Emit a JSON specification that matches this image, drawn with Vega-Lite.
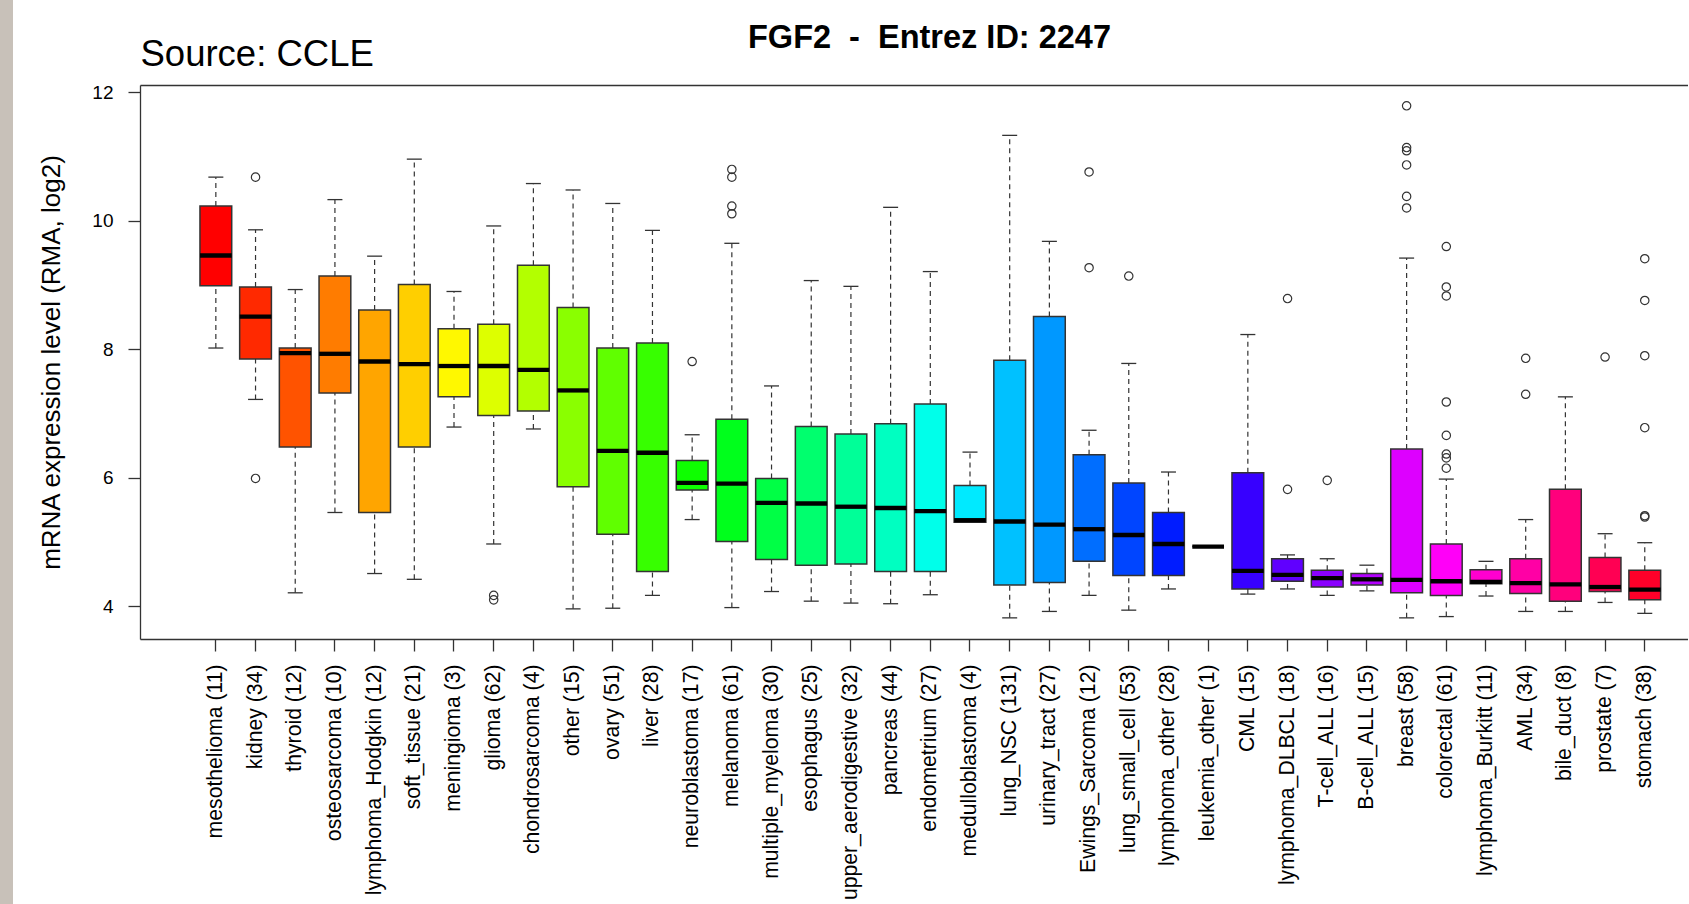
{
  "$schema": "https://vega.github.io/schema/vega-lite/v6.json",
  "padding": 0,
  "autosize": {"type": "pad"},
  "background": "#ffffff",
  "spacing": 25,
  "config": {
    "font": "Liberation Sans",
    "view": {"stroke": null},
    "axis": {"grid": false, "labelFont": "Liberation Sans", "titleFont": "Liberation Sans"},
    "title": {"font": "Liberation Sans"}
  },
  "datasets": {
    "stats": [
      {"site": "mesothelioma (11)", "lo": 8.02, "q1": 8.99, "med": 9.46, "q3": 10.23, "hi": 10.68},
      {"site": "kidney (34)", "lo": 7.22, "q1": 7.85, "med": 8.51, "q3": 8.97, "hi": 9.86},
      {"site": "thyroid (12)", "lo": 4.21, "q1": 6.48, "med": 7.94, "q3": 8.02, "hi": 8.93},
      {"site": "osteosarcoma (10)", "lo": 5.46, "q1": 7.32, "med": 7.93, "q3": 9.14, "hi": 10.33},
      {"site": "lymphoma_Hodgkin (12)", "lo": 4.51, "q1": 5.46, "med": 7.81, "q3": 8.61, "hi": 9.45},
      {"site": "soft_tissue (21)", "lo": 4.42, "q1": 6.48, "med": 7.77, "q3": 9.01, "hi": 10.96},
      {"site": "meningioma (3)", "lo": 6.79, "q1": 7.26, "med": 7.74, "q3": 8.32, "hi": 8.9},
      {"site": "glioma (62)", "lo": 4.97, "q1": 6.97, "med": 7.74, "q3": 8.39, "hi": 9.92},
      {"site": "chondrosarcoma (4)", "lo": 6.76, "q1": 7.04, "med": 7.68, "q3": 9.31, "hi": 10.58},
      {"site": "other (15)", "lo": 3.96, "q1": 5.86, "med": 7.36, "q3": 8.65, "hi": 10.48},
      {"site": "ovary (51)", "lo": 3.97, "q1": 5.12, "med": 6.42, "q3": 8.02, "hi": 10.27},
      {"site": "liver (28)", "lo": 4.17, "q1": 4.54, "med": 6.39, "q3": 8.1, "hi": 9.85},
      {"site": "neuroblastoma (17)", "lo": 5.35, "q1": 5.81, "med": 5.92, "q3": 6.27, "hi": 6.67},
      {"site": "melanoma (61)", "lo": 3.98, "q1": 5.01, "med": 5.91, "q3": 6.91, "hi": 9.65},
      {"site": "multiple_myeloma (30)", "lo": 4.23, "q1": 4.73, "med": 5.61, "q3": 5.99, "hi": 7.43},
      {"site": "esophagus (25)", "lo": 4.08, "q1": 4.64, "med": 5.6, "q3": 6.8, "hi": 9.07},
      {"site": "upper_aerodigestive (32)", "lo": 4.05, "q1": 4.66, "med": 5.55, "q3": 6.68, "hi": 8.98},
      {"site": "pancreas (44)", "lo": 4.04, "q1": 4.54, "med": 5.53, "q3": 6.84, "hi": 10.21},
      {"site": "endometrium (27)", "lo": 4.18, "q1": 4.54, "med": 5.48, "q3": 7.15, "hi": 9.21},
      {"site": "medulloblastoma (4)", "lo": 5.31, "q1": 5.31, "med": 5.34, "q3": 5.88, "hi": 6.4},
      {"site": "lung_NSC (131)", "lo": 3.82, "q1": 4.33, "med": 5.32, "q3": 7.83, "hi": 11.33},
      {"site": "urinary_tract (27)", "lo": 3.92, "q1": 4.37, "med": 5.27, "q3": 8.51, "hi": 9.68},
      {"site": "Ewings_Sarcoma (12)", "lo": 4.17, "q1": 4.7, "med": 5.2, "q3": 6.36, "hi": 6.74},
      {"site": "lung_small_cell (53)", "lo": 3.94, "q1": 4.48, "med": 5.11, "q3": 5.92, "hi": 7.78},
      {"site": "lymphoma_other (28)", "lo": 4.27, "q1": 4.48, "med": 4.97, "q3": 5.46, "hi": 6.09},
      {"site": "leukemia_other (1)", "lo": 4.93, "q1": 4.93, "med": 4.93, "q3": 4.93, "hi": 4.93},
      {"site": "CML (15)", "lo": 4.19, "q1": 4.27, "med": 4.55, "q3": 6.08, "hi": 8.23},
      {"site": "lymphoma_DLBCL (18)", "lo": 4.27, "q1": 4.39, "med": 4.49, "q3": 4.74, "hi": 4.8},
      {"site": "T-cell_ALL (16)", "lo": 4.17, "q1": 4.3, "med": 4.44, "q3": 4.56, "hi": 4.74},
      {"site": "B-cell_ALL (15)", "lo": 4.24, "q1": 4.33, "med": 4.42, "q3": 4.51, "hi": 4.64},
      {"site": "breast (58)", "lo": 3.82, "q1": 4.21, "med": 4.41, "q3": 6.45, "hi": 9.42},
      {"site": "colorectal (61)", "lo": 3.84, "q1": 4.17, "med": 4.39, "q3": 4.97, "hi": 5.98},
      {"site": "lymphoma_Burkitt (11)", "lo": 4.16, "q1": 4.35, "med": 4.38, "q3": 4.57, "hi": 4.7},
      {"site": "AML (34)", "lo": 3.92, "q1": 4.2, "med": 4.36, "q3": 4.74, "hi": 5.35},
      {"site": "bile_duct (8)", "lo": 3.92, "q1": 4.08, "med": 4.34, "q3": 5.82, "hi": 7.26},
      {"site": "prostate (7)", "lo": 4.06, "q1": 4.23, "med": 4.3, "q3": 4.76, "hi": 5.13},
      {"site": "stomach (38)", "lo": 3.89, "q1": 4.1, "med": 4.26, "q3": 4.56, "hi": 4.99}
    ],
    "outliers": [
      {"site": "kidney (34)", "value": 10.68},
      {"site": "kidney (34)", "value": 5.99},
      {"site": "glioma (62)", "value": 4.17},
      {"site": "glioma (62)", "value": 4.1},
      {"site": "neuroblastoma (17)", "value": 7.81},
      {"site": "melanoma (61)", "value": 10.8},
      {"site": "melanoma (61)", "value": 10.68},
      {"site": "melanoma (61)", "value": 10.23},
      {"site": "melanoma (61)", "value": 10.11},
      {"site": "Ewings_Sarcoma (12)", "value": 10.76},
      {"site": "Ewings_Sarcoma (12)", "value": 9.27},
      {"site": "lung_small_cell (53)", "value": 9.14},
      {"site": "lymphoma_DLBCL (18)", "value": 8.79},
      {"site": "lymphoma_DLBCL (18)", "value": 5.82},
      {"site": "T-cell_ALL (16)", "value": 5.96},
      {"site": "breast (58)", "value": 11.79},
      {"site": "breast (58)", "value": 11.14},
      {"site": "breast (58)", "value": 11.09},
      {"site": "breast (58)", "value": 10.87},
      {"site": "breast (58)", "value": 10.38},
      {"site": "breast (58)", "value": 10.2},
      {"site": "colorectal (61)", "value": 9.6},
      {"site": "colorectal (61)", "value": 8.97},
      {"site": "colorectal (61)", "value": 8.83},
      {"site": "colorectal (61)", "value": 7.18},
      {"site": "colorectal (61)", "value": 6.66},
      {"site": "colorectal (61)", "value": 6.37},
      {"site": "colorectal (61)", "value": 6.31},
      {"site": "colorectal (61)", "value": 6.15},
      {"site": "AML (34)", "value": 7.86},
      {"site": "AML (34)", "value": 7.3},
      {"site": "prostate (7)", "value": 7.88},
      {"site": "stomach (38)", "value": 9.41},
      {"site": "stomach (38)", "value": 8.76},
      {"site": "stomach (38)", "value": 7.9},
      {"site": "stomach (38)", "value": 6.78},
      {"site": "stomach (38)", "value": 5.41},
      {"site": "stomach (38)", "value": 5.39}
    ]
  },
  "hconcat": [
    {
      "width": 13,
      "height": 904,
      "view": {"fill": "#c8c1b9", "stroke": null},
      "data": {"values": []},
      "mark": "point"
    },
    {
      "spacing": 0,
      "vconcat": [
        {
          "width": 1548,
          "height": 21,
          "view": {"stroke": null},
          "data": {"values": []},
          "mark": "point"
        },
        {
          "width": 1548,
          "height": 554,
          "view": {"stroke": null},
          "title": {
            "text": "FGF2\u00a0\u00a0-\u00a0\u00a0Entrez ID: 2247",
            "fontSize": 32.5,
            "fontWeight": "bold",
            "color": "#000000",
            "anchor": "middle",
            "frame": "group",
            "offset": -18,
            "dx": 15.5
          },
          "data": {"name": "stats"},
          "resolve": {"axis": {"x": "independent"}},
          "layer": [
            {
              "mark": {"type": "rule", "strokeDash": [5, 4], "color": "#333333", "strokeWidth": 1.2},
              "encoding": {
                "x": {
                  "field": "site", "type": "nominal",
                  "scale": {"type": "band", "domain": ["mesothelioma (11)", "kidney (34)", "thyroid (12)", "osteosarcoma (10)", "lymphoma_Hodgkin (12)", "soft_tissue (21)", "meningioma (3)", "glioma (62)", "chondrosarcoma (4)", "other (15)", "ovary (51)", "liver (28)", "neuroblastoma (17)", "melanoma (61)", "multiple_myeloma (30)", "esophagus (25)", "upper_aerodigestive (32)", "pancreas (44)", "endometrium (27)", "medulloblastoma (4)", "lung_NSC (131)", "urinary_tract (27)", "Ewings_Sarcoma (12)", "lung_small_cell (53)", "lymphoma_other (28)", "leukemia_other (1)", "CML (15)", "lymphoma_DLBCL (18)", "T-cell_ALL (16)", "B-cell_ALL (15)", "breast (58)", "colorectal (61)", "lymphoma_Burkitt (11)", "AML (34)", "bile_duct (8)", "prostate (7)", "stomach (38)"], "paddingInner": 0, "paddingOuter": 1, "align": 0.7054, "round": false},
                  "axis": {
                    "orient": "top", "title": "Source: CCLE", "domain": true, "domainColor": "#333333", "domainWidth": 1.3,
                    "ticks": false, "labels": false, "grid": false,
                    "titleFontSize": 36.5, "titleFontWeight": "normal", "titleColor": "#000000",
                    "titleAnchor": "start", "titleAlign": "left", "titleBaseline": "alphabetic", "titleX": 0, "titleY": -20
                  }
                },
                "y": {
                  "field": "lo", "type": "quantitative",
                  "scale": {"domain": [3.491, 12.114], "nice": false, "zero": false},
                  "axis": {
                    "title": "mRNA expression level (RMA, log2)", "values": [4, 6, 8, 10, 12], "format": "d",
                    "domain": true, "domainColor": "#333333", "domainWidth": 1.3,
                    "tickSize": 12, "tickColor": "#333333", "tickWidth": 1.3,
                    "labelFontSize": 19, "labelPadding": 15, "labelColor": "#000000",
                    "titleFontSize": 26, "titleFontWeight": "normal", "titleColor": "#000000", "titlePadding": 27.5,
                    "grid": false
                  }
                },
                "y2": {"field": "q1"}
              }
            },
            {
              "mark": {"type": "rule", "strokeDash": [5, 4], "color": "#333333", "strokeWidth": 1.2},
              "encoding": {
                "x": {
                  "field": "site", "type": "nominal",
                  "scale": {"type": "band", "domain": ["mesothelioma (11)", "kidney (34)", "thyroid (12)", "osteosarcoma (10)", "lymphoma_Hodgkin (12)", "soft_tissue (21)", "meningioma (3)", "glioma (62)", "chondrosarcoma (4)", "other (15)", "ovary (51)", "liver (28)", "neuroblastoma (17)", "melanoma (61)", "multiple_myeloma (30)", "esophagus (25)", "upper_aerodigestive (32)", "pancreas (44)", "endometrium (27)", "medulloblastoma (4)", "lung_NSC (131)", "urinary_tract (27)", "Ewings_Sarcoma (12)", "lung_small_cell (53)", "lymphoma_other (28)", "leukemia_other (1)", "CML (15)", "lymphoma_DLBCL (18)", "T-cell_ALL (16)", "B-cell_ALL (15)", "breast (58)", "colorectal (61)", "lymphoma_Burkitt (11)", "AML (34)", "bile_duct (8)", "prostate (7)", "stomach (38)"], "paddingInner": 0, "paddingOuter": 1, "align": 0.7054, "round": false},
                  "axis": null
                },
                "y": {"field": "q3", "type": "quantitative", "scale": {"domain": [3.491, 12.114], "nice": false, "zero": false}},
                "y2": {"field": "hi"}
              }
            },
            {
              "mark": {"type": "tick", "orient": "horizontal", "size": 15, "thickness": 1.3, "color": "#333333", "opacity": 1},
              "encoding": {
                "x": {
                  "field": "site", "type": "nominal",
                  "scale": {"type": "band", "domain": ["mesothelioma (11)", "kidney (34)", "thyroid (12)", "osteosarcoma (10)", "lymphoma_Hodgkin (12)", "soft_tissue (21)", "meningioma (3)", "glioma (62)", "chondrosarcoma (4)", "other (15)", "ovary (51)", "liver (28)", "neuroblastoma (17)", "melanoma (61)", "multiple_myeloma (30)", "esophagus (25)", "upper_aerodigestive (32)", "pancreas (44)", "endometrium (27)", "medulloblastoma (4)", "lung_NSC (131)", "urinary_tract (27)", "Ewings_Sarcoma (12)", "lung_small_cell (53)", "lymphoma_other (28)", "leukemia_other (1)", "CML (15)", "lymphoma_DLBCL (18)", "T-cell_ALL (16)", "B-cell_ALL (15)", "breast (58)", "colorectal (61)", "lymphoma_Burkitt (11)", "AML (34)", "bile_duct (8)", "prostate (7)", "stomach (38)"], "paddingInner": 0, "paddingOuter": 1, "align": 0.7054, "round": false},
                  "axis": null
                },
                "y": {"field": "lo", "type": "quantitative", "scale": {"domain": [3.491, 12.114], "nice": false, "zero": false}}
              }
            },
            {
              "mark": {"type": "tick", "orient": "horizontal", "size": 15, "thickness": 1.3, "color": "#333333", "opacity": 1},
              "encoding": {
                "x": {
                  "field": "site", "type": "nominal",
                  "scale": {"type": "band", "domain": ["mesothelioma (11)", "kidney (34)", "thyroid (12)", "osteosarcoma (10)", "lymphoma_Hodgkin (12)", "soft_tissue (21)", "meningioma (3)", "glioma (62)", "chondrosarcoma (4)", "other (15)", "ovary (51)", "liver (28)", "neuroblastoma (17)", "melanoma (61)", "multiple_myeloma (30)", "esophagus (25)", "upper_aerodigestive (32)", "pancreas (44)", "endometrium (27)", "medulloblastoma (4)", "lung_NSC (131)", "urinary_tract (27)", "Ewings_Sarcoma (12)", "lung_small_cell (53)", "lymphoma_other (28)", "leukemia_other (1)", "CML (15)", "lymphoma_DLBCL (18)", "T-cell_ALL (16)", "B-cell_ALL (15)", "breast (58)", "colorectal (61)", "lymphoma_Burkitt (11)", "AML (34)", "bile_duct (8)", "prostate (7)", "stomach (38)"], "paddingInner": 0, "paddingOuter": 1, "align": 0.7054, "round": false},
                  "axis": null
                },
                "y": {"field": "hi", "type": "quantitative", "scale": {"domain": [3.491, 12.114], "nice": false, "zero": false}}
              }
            },
            {
              "mark": {"type": "bar", "width": {"band": 0.8}, "stroke": "#333333", "strokeWidth": 1.5, "opacity": 1},
              "encoding": {
                "x": {
                  "field": "site", "type": "nominal",
                  "scale": {"type": "band", "domain": ["mesothelioma (11)", "kidney (34)", "thyroid (12)", "osteosarcoma (10)", "lymphoma_Hodgkin (12)", "soft_tissue (21)", "meningioma (3)", "glioma (62)", "chondrosarcoma (4)", "other (15)", "ovary (51)", "liver (28)", "neuroblastoma (17)", "melanoma (61)", "multiple_myeloma (30)", "esophagus (25)", "upper_aerodigestive (32)", "pancreas (44)", "endometrium (27)", "medulloblastoma (4)", "lung_NSC (131)", "urinary_tract (27)", "Ewings_Sarcoma (12)", "lung_small_cell (53)", "lymphoma_other (28)", "leukemia_other (1)", "CML (15)", "lymphoma_DLBCL (18)", "T-cell_ALL (16)", "B-cell_ALL (15)", "breast (58)", "colorectal (61)", "lymphoma_Burkitt (11)", "AML (34)", "bile_duct (8)", "prostate (7)", "stomach (38)"], "paddingInner": 0, "paddingOuter": 1, "align": 0.7054, "round": false},
                  "axis": {
                    "orient": "bottom", "title": null, "domain": true, "domainColor": "#333333", "domainWidth": 1.3,
                    "ticks": true, "tickSize": 12, "tickColor": "#333333", "tickWidth": 1.3,
                    "labelAngle": -90, "labelAlign": "right", "labelBaseline": "middle", "labelPadding": 13,
                    "labelFontSize": 21.2, "labelColor": "#000000", "labelLimit": 400, "labelOverlap": false, "grid": false
                  }
                },
                "y": {"field": "q1", "type": "quantitative", "scale": {"domain": [3.491, 12.114], "nice": false, "zero": false}},
                "y2": {"field": "q3"},
                "color": {
                  "field": "site", "type": "nominal", "legend": null,
                  "scale": {
                    "domain": ["mesothelioma (11)", "kidney (34)", "thyroid (12)", "osteosarcoma (10)", "lymphoma_Hodgkin (12)", "soft_tissue (21)", "meningioma (3)", "glioma (62)", "chondrosarcoma (4)", "other (15)", "ovary (51)", "liver (28)", "neuroblastoma (17)", "melanoma (61)", "multiple_myeloma (30)", "esophagus (25)", "upper_aerodigestive (32)", "pancreas (44)", "endometrium (27)", "medulloblastoma (4)", "lung_NSC (131)", "urinary_tract (27)", "Ewings_Sarcoma (12)", "lung_small_cell (53)", "lymphoma_other (28)", "leukemia_other (1)", "CML (15)", "lymphoma_DLBCL (18)", "T-cell_ALL (16)", "B-cell_ALL (15)", "breast (58)", "colorectal (61)", "lymphoma_Burkitt (11)", "AML (34)", "bile_duct (8)", "prostate (7)", "stomach (38)"],
                    "range": ["#FF0000", "#FF2900", "#FF5300", "#FF7C00", "#FFA500", "#FFCF00", "#FFF800", "#DDFF00", "#B3FF00", "#8AFF00", "#60FF00", "#37FF00", "#0EFF00", "#00FF1C", "#00FF45", "#00FF6E", "#00FF98", "#00FFC1", "#00FFEA", "#00EAFF", "#00C1FF", "#0098FF", "#006EFF", "#0045FF", "#001CFF", "#0E00FF", "#3700FF", "#6000FF", "#8A00FF", "#B300FF", "#DD00FF", "#FF00F8", "#FF00CF", "#FF00A5", "#FF007C", "#FF0053", "#FF0029"]
                  }
                }
              }
            },
            {
              "mark": {"type": "tick", "orient": "horizontal", "size": 31.7, "thickness": 4.3, "color": "#000000", "opacity": 1},
              "encoding": {
                "x": {
                  "field": "site", "type": "nominal",
                  "scale": {"type": "band", "domain": ["mesothelioma (11)", "kidney (34)", "thyroid (12)", "osteosarcoma (10)", "lymphoma_Hodgkin (12)", "soft_tissue (21)", "meningioma (3)", "glioma (62)", "chondrosarcoma (4)", "other (15)", "ovary (51)", "liver (28)", "neuroblastoma (17)", "melanoma (61)", "multiple_myeloma (30)", "esophagus (25)", "upper_aerodigestive (32)", "pancreas (44)", "endometrium (27)", "medulloblastoma (4)", "lung_NSC (131)", "urinary_tract (27)", "Ewings_Sarcoma (12)", "lung_small_cell (53)", "lymphoma_other (28)", "leukemia_other (1)", "CML (15)", "lymphoma_DLBCL (18)", "T-cell_ALL (16)", "B-cell_ALL (15)", "breast (58)", "colorectal (61)", "lymphoma_Burkitt (11)", "AML (34)", "bile_duct (8)", "prostate (7)", "stomach (38)"], "paddingInner": 0, "paddingOuter": 1, "align": 0.7054, "round": false},
                  "axis": null
                },
                "y": {"field": "med", "type": "quantitative", "scale": {"domain": [3.491, 12.114], "nice": false, "zero": false}}
              }
            },
            {
              "data": {"name": "outliers"},
              "mark": {"type": "point", "shape": "circle", "filled": false, "size": 70, "stroke": "#333333", "strokeWidth": 1.2, "opacity": 1},
              "encoding": {
                "x": {
                  "field": "site", "type": "nominal",
                  "scale": {"type": "band", "domain": ["mesothelioma (11)", "kidney (34)", "thyroid (12)", "osteosarcoma (10)", "lymphoma_Hodgkin (12)", "soft_tissue (21)", "meningioma (3)", "glioma (62)", "chondrosarcoma (4)", "other (15)", "ovary (51)", "liver (28)", "neuroblastoma (17)", "melanoma (61)", "multiple_myeloma (30)", "esophagus (25)", "upper_aerodigestive (32)", "pancreas (44)", "endometrium (27)", "medulloblastoma (4)", "lung_NSC (131)", "urinary_tract (27)", "Ewings_Sarcoma (12)", "lung_small_cell (53)", "lymphoma_other (28)", "leukemia_other (1)", "CML (15)", "lymphoma_DLBCL (18)", "T-cell_ALL (16)", "B-cell_ALL (15)", "breast (58)", "colorectal (61)", "lymphoma_Burkitt (11)", "AML (34)", "bile_duct (8)", "prostate (7)", "stomach (38)"], "paddingInner": 0, "paddingOuter": 1, "align": 0.7054, "round": false},
                  "axis": null
                },
                "y": {"field": "value", "type": "quantitative", "scale": {"domain": [3.491, 12.114], "nice": false, "zero": false}}
              }
            }
          ]
        }
      ]
    }
  ]
}
